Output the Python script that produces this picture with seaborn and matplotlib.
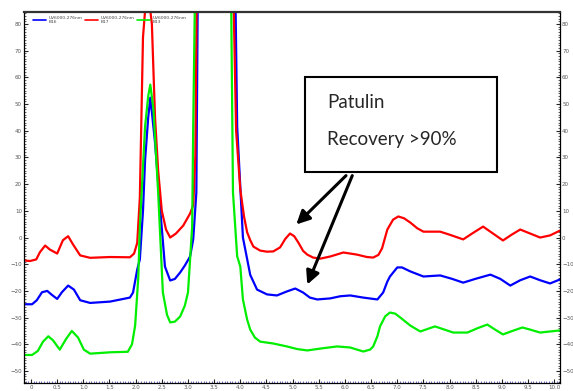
import numpy as np
import pandas as pd
import matplotlib
matplotlib.use("Agg")
import matplotlib.pyplot as plt
from matplotlib.patches import Rectangle
from matplotlib.lines import Line2D
from matplotlib.ticker import MultipleLocator
import seaborn as sns

# ──────────────────────────────────────────────
# Data (time in min, signal in mAU)
# ──────────────────────────────────────────────

red_time = [-0.13, -0.02, 0.10, 0.17, 0.27, 0.36, 0.50, 0.61, 0.71, 0.80, 0.94, 1.13,
            1.51, 1.89, 1.97, 2.03, 2.08, 2.14, 2.22, 2.31, 2.37, 2.43, 2.50, 2.58,
            2.66, 2.77, 2.91, 3.04, 3.10, 3.14, 3.17, 3.52, 3.86, 3.92, 4.00, 4.07,
            4.13, 4.19, 4.25, 4.38, 4.51, 4.63, 4.76, 4.86, 4.95, 5.03, 5.11, 5.20,
            5.28, 5.39, 5.53, 5.72, 5.97, 6.23, 6.42, 6.54, 6.64, 6.71, 6.81, 6.92,
            7.02, 7.13, 7.25, 7.38, 7.50, 7.82, 8.01, 8.26, 8.43, 8.64, 8.83, 9.02,
            9.18, 9.35, 9.54, 9.73, 9.92, 10.11]
red_signal = [-8.6, -8.8, -8.2, -5.5, -3.0, -4.5, -6.0, -1.0, 0.5, -2.5, -6.7, -7.6,
              -7.3, -7.4, -6.0, -2.0, 15, 75, 95, 80, 45, 25, 10, 3,
              0.0, 1.5, 4.5, 9, 12, 30, 100, 200, 100, 40, 18, 8,
              2, -1, -3.4, -4.9, -5.3, -5.2, -3.7, -0.5, 1.5, 0.5, -1.9, -5.0,
              -6.4, -7.5, -7.9, -7.1, -5.6, -6.4, -7.3, -7.5, -6.5, -4.0, 3.0, 6.7,
              7.9, 7.2, 5.6, 3.5, 2.2, 2.2, 1.0, -0.7, 1.5, 4.1, 1.5, -1.1,
              1.0, 3.0, 1.5, 0.0, 0.8, 2.6]

blue_time = [-0.13, 0.02, 0.11, 0.21, 0.31, 0.40, 0.50, 0.59, 0.71, 0.82, 0.94, 1.13,
             1.51, 1.89, 1.95, 2.03, 2.08, 2.14, 2.18, 2.24, 2.28, 2.31, 2.37, 2.47,
             2.56, 2.66, 2.75, 2.85, 2.94, 3.04, 3.10, 3.16, 3.19, 3.54, 3.90, 3.94,
             4.05, 4.13, 4.19, 4.32, 4.51, 4.70, 4.89, 5.05, 5.20, 5.33, 5.47, 5.72,
             5.91, 6.10, 6.35, 6.62, 6.73, 6.81, 6.86, 7.00, 7.09, 7.25, 7.50, 7.82,
             8.05, 8.26, 8.49, 8.78, 8.97, 9.16, 9.35, 9.54, 9.73, 9.92, 10.11]
blue_signal = [-25.0, -25.0, -23.5, -20.5, -20.0, -21.5, -23.0, -20.5, -18.0, -19.5, -23.5, -24.5,
               -24.0, -22.5, -20.6, -12, -8.2, 10, 29, 45, 52.4, 47, 35.6, 10.5,
               -10.9, -16.1, -15.5, -13.1, -10.5, -7.1, -0.7, 16.9, 100, 200, 100, 41.6,
               0.0, -8.0, -14.0, -19.5, -21.3, -21.7, -20.2, -19.1, -20.6, -22.5, -23.2, -22.8,
               -22.0, -21.7, -22.5, -23.2, -20.6, -16.5, -14.6, -11.2, -11.2, -12.7, -14.6, -14.2,
               -15.5, -16.9, -15.5, -13.9, -15.5, -18.0, -16.0, -14.6, -16.0, -17.2, -15.7]

green_time = [-0.13, 0.02, 0.13, 0.23, 0.33, 0.42, 0.55, 0.67, 0.78, 0.90, 1.01, 1.13,
              1.51, 1.85, 1.93, 1.99, 2.05, 2.08, 2.18, 2.24, 2.28, 2.34, 2.43, 2.52,
              2.60, 2.66, 2.75, 2.85, 2.94, 3.00, 3.08, 3.10, 3.14, 3.48, 3.82, 3.86,
              3.94, 4.00, 4.05, 4.13, 4.19, 4.28, 4.38, 4.63, 4.89, 5.09, 5.28, 5.53,
              5.85, 6.10, 6.35, 6.48, 6.54, 6.62, 6.67, 6.77, 6.86, 6.96, 7.06, 7.25,
              7.44, 7.72, 8.07, 8.34, 8.53, 8.72, 8.87, 9.02, 9.20, 9.39, 9.54, 9.73,
              9.92, 10.11]
green_signal = [-44.0, -44.0, -42.5, -39.0, -37.0, -38.5, -42.0, -38.0, -35.0, -37.5, -42.0, -43.5,
                -43.0, -42.8, -40.0, -33.0, -15, 4.0, 41.6, 53, 57.3, 48.0, 16.9, -20.6,
                -29, -31.8, -31.5, -29.6, -25.5, -20.6, 4.1, 41.6, 100, 200, 100, 16.9,
                -7.0, -10.9, -23.2, -30.7, -34.5, -37.5, -39.0, -39.7, -40.8, -41.8, -42.3, -41.6,
                -40.8, -41.2, -42.7, -42.0, -40.8, -37.0, -33.3, -29.5, -28.1, -28.5, -30.0, -33.0,
                -35.2, -33.3, -35.6, -35.6, -34.0, -32.6, -34.5, -36.3, -35.0, -33.7, -34.5, -35.6,
                -35.2, -34.8]

trace_names = ["B16", "B17", "B13"]
trace_colors = ["#0000ff", "#ff0000", "#00ee00"]
legend_prefix = "UV6000-276nm"

x_ticks = np.arange(0, 10.01, 0.5)
y_ticks = np.arange(-50, 81, 10)

df = pd.concat([
    pd.DataFrame({"time": blue_time, "signal": blue_signal, "trace": "B16"}),
    pd.DataFrame({"time": red_time, "signal": red_signal, "trace": "B17"}),
    pd.DataFrame({"time": green_time, "signal": green_signal, "trace": "B13"}),
])

# ──────────────────────────────────────────────
# Plot
# ──────────────────────────────────────────────

sns.set_theme(style="ticks")
plt.rcParams["font.family"] = ["DejaVu Sans"]

fig = plt.figure(figsize=(5.73, 3.91), dpi=100)
ax = fig.add_axes([24 / 573, 8 / 391, 536 / 573, 371 / 391])

sns.lineplot(data=df, x="time", y="signal", hue="trace", hue_order=trace_names,
             palette=trace_colors, linewidth=1.6, sort=False, legend=False,
             estimator=None, ax=ax)

ax.set_xlim(-0.134, 10.11)
ax.set_ylim(-54.5, 84.5)
ax.set_xlabel("")
ax.set_ylabel("")

ax.set_xticks(x_ticks)
ax.set_xticklabels([f"{t:.1f}" if t > 0 else "0" for t in x_ticks])
ax.set_yticks(y_ticks)
ax.xaxis.set_minor_locator(MultipleLocator(0.05))
ax.yaxis.set_minor_locator(MultipleLocator(1))
ax.tick_params(axis="both", which="major", direction="in", length=3, width=0.8,
               labelsize=4, labelcolor="#555555", pad=1.5)
ax.tick_params(axis="both", which="minor", direction="in", length=1.5, width=0.5)
ax.tick_params(axis="y", which="both", left=True, right=True, labelleft=True, labelright=True)
ax.tick_params(axis="x", which="minor", color="#333399")
for side in ["left", "right", "bottom"]:
    ax.spines[side].set_linewidth(0.9)
    ax.spines[side].set_color("black")
ax.spines["top"].set_linewidth(1.6)
ax.spines["top"].set_color("#333333")

# legend across the top
handles = [Line2D([0], [0], color=c, lw=1.2) for c in trace_colors]
labels = [f"{legend_prefix}\n{n}" for n in trace_names]
ax.legend(handles, labels, ncol=3, loc="upper left", bbox_to_anchor=(0.01, 1.0),
          fontsize=3.2, frameon=False, handlelength=3.0, handletextpad=0.5,
          columnspacing=0.6, borderaxespad=0.4, labelcolor="#444444")

# annotation box
ax.add_patch(Rectangle((0.524, 0.569), 0.358, 0.256, transform=ax.transAxes,
                       facecolor="white", edgecolor="black", lw=1.5, zorder=5))
ax.text(0.565, 0.757, "Patulin", transform=ax.transAxes, fontsize=13.5,
        family=["Lato", "DejaVu Sans"], va="center", ha="left", zorder=6)
ax.text(0.565, 0.655, "Recovery >90%", transform=ax.transAxes, fontsize=13.5,
        family=["Lato", "DejaVu Sans"], va="center", ha="left", zorder=6)

arrow_style = dict(arrowstyle="-|>", lw=2.2, color="black", mutation_scale=20,
                   shrinkA=0, shrinkB=0)
ax.annotate("", xy=(5.07, 4.9), xytext=(6.02, 23.2), arrowprops=arrow_style, zorder=6)
ax.annotate("", xy=(5.28, -17.6), xytext=(6.14, 23.2), arrowprops=arrow_style, zorder=6)

plt.savefig("out.png", dpi=100)
plt.close()
